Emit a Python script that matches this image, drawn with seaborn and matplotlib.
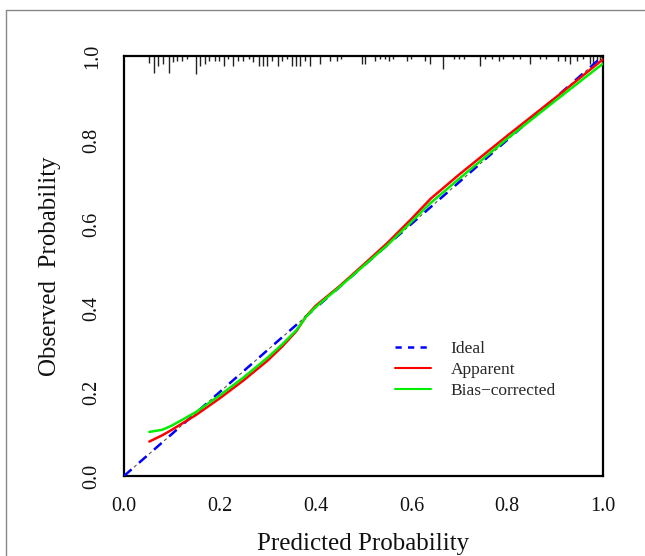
import numpy as np
import pandas as pd
import matplotlib
matplotlib.use("Agg")
import matplotlib.pyplot as plt
import seaborn as sns
from matplotlib.lines import Line2D

# predicted probability grid and calibration curves
pred = [0.053, 0.08, 0.10, 0.15, 0.20, 0.25, 0.30, 0.33, 0.36, 0.38, 0.40, 0.45,
        0.50, 0.55, 0.60, 0.64, 0.70, 0.80, 0.90, 1.00]
apparent = [0.082, 0.097, 0.110, 0.145, 0.185, 0.228, 0.275, 0.308, 0.345, 0.380, 0.405, 0.452,
            0.503, 0.555, 0.612, 0.660, 0.718, 0.810, 0.900, 0.992]
bias_corrected = [0.105, 0.110, 0.120, 0.152, 0.192, 0.235, 0.282, 0.313, 0.347, 0.379, 0.402, 0.450,
                  0.500, 0.550, 0.605, 0.650, 0.708, 0.803, 0.893, 0.982]

# spike histogram of predicted probabilities (top of the plot)
spike_x = [0.053, 0.063, 0.072, 0.082, 0.093, 0.103, 0.111, 0.122, 0.131, 0.150,
           0.159, 0.169, 0.178, 0.190, 0.199, 0.209, 0.218, 0.228, 0.237, 0.248,
           0.260, 0.270, 0.281, 0.291, 0.299, 0.310, 0.321, 0.329, 0.340, 0.350,
           0.359, 0.367, 0.378, 0.388, 0.409, 0.430, 0.444, 0.454, 0.496, 0.503,
           0.524, 0.534, 0.545, 0.554, 0.562, 0.590, 0.600, 0.628, 0.639, 0.667,
           0.688, 0.699, 0.709, 0.744, 0.754, 0.768, 0.782, 0.792, 0.813, 0.827,
           0.848, 0.868, 0.882, 0.907, 0.921, 0.931, 0.945, 0.959, 0.973, 0.980,
           0.987, 0.994]
spike_h = [0.016, 0.040, 0.024, 0.020, 0.040, 0.014, 0.012, 0.012, 0.006, 0.043,
           0.024, 0.020, 0.012, 0.012, 0.012, 0.024, 0.006, 0.024, 0.012, 0.012,
           0.006, 0.014, 0.024, 0.024, 0.024, 0.012, 0.024, 0.012, 0.006, 0.024,
           0.024, 0.024, 0.012, 0.024, 0.020, 0.012, 0.012, 0.006, 0.020, 0.020,
           0.012, 0.006, 0.006, 0.012, 0.006, 0.012, 0.006, 0.012, 0.020, 0.030,
           0.006, 0.006, 0.006, 0.024, 0.006, 0.006, 0.012, 0.006, 0.006, 0.006,
           0.020, 0.006, 0.006, 0.012, 0.012, 0.020, 0.012, 0.006, 0.020, 0.020,
           0.012, 0.012]

ticks = [0.0, 0.2, 0.4, 0.6, 0.8, 1.0]
tick_labels = ["0.0", "0.2", "0.4", "0.6", "0.8", "1.0"]

sns.set_style("white")
plt.rcParams['font.family'] = ['Liberation Serif', 'DejaVu Serif']

df = pd.DataFrame({"pred": pred * 2,
                   "obs": apparent + bias_corrected,
                   "kind": ["Apparent"] * len(pred) + ["Bias\u2212corrected"] * len(pred)})

fig = plt.figure(figsize=(6.45, 5.56), dpi=100)
ax = fig.add_axes([0.1922, 0.1439, 0.7427, 0.7554])

# ideal line
ax.plot([0, 1], [0, 1], color="#555555", lw=0.8, ls=(0, (3, 3)), zorder=2)
ax.plot([0, 1], [0, 1], color="#0000ff", lw=1.8, ls=(0, (4, 4)), zorder=3, label="Ideal")

sns.lineplot(data=df, x="pred", y="obs", hue="kind",
             palette={"Apparent": "#ff0000", "Bias\u2212corrected": "#00ee00"},
             lw=1.8, ax=ax, legend=False, zorder=4)

# spikes hanging from the top
ax.vlines(spike_x, [1 - h for h in spike_h], 1.0, color="#222222", lw=1.0, zorder=1)

ax.set_xlim(0, 1)
ax.set_ylim(0, 1)
ax.set_xticks(ticks)
ax.set_xticklabels(tick_labels)
ax.set_yticks(ticks)
ax.set_yticklabels(tick_labels, rotation=90, va="center")
ax.tick_params(axis="both", direction="out", length=6, width=1.0, color="#555555",
               labelsize=14.5, labelcolor="#111111")
ax.tick_params(axis="x", pad=9)
ax.tick_params(axis="y", pad=10)
for s in ax.spines.values():
    s.set_color("black")
    s.set_linewidth(1.6)

ax.set_xlabel("Predicted Probability", fontsize=18, color="#111111")
ax.set_ylabel("Observed  Probability", fontsize=18, color="#111111")
ax.xaxis.set_label_coords(0.5, -0.163)
ax.xaxis.label.set_va("center")
ax.yaxis.set_label_coords(-0.154, 0.5)
ax.yaxis.label.set_va("center")

handles = [Line2D([], [], color="#0000ff", lw=1.8, ls=(0, (2.5, 2.5))),
           Line2D([], [], color="#ff0000", lw=1.5),
           Line2D([], [], color="#00ee00", lw=1.5)]
ax.legend(handles, ["Ideal", "Apparent", "Bias\u2212corrected"], frameon=False,
          loc="upper left", bbox_to_anchor=(0.533, 0.358), fontsize=12.5,
          handlelength=2.1, handletextpad=1.1, labelspacing=0.28)

# light grey frame lines around the figure (top and left)
fig.add_artist(Line2D([6 / 645, 1], [1 - 10 / 556, 1 - 10 / 556], color="#888888", lw=1.0,
                      transform=fig.transFigure))
fig.add_artist(Line2D([6 / 645, 6 / 645], [0, 1 - 10 / 556], color="#888888", lw=1.0,
                      transform=fig.transFigure))

fig.savefig("out.png", dpi=100, facecolor="white")
